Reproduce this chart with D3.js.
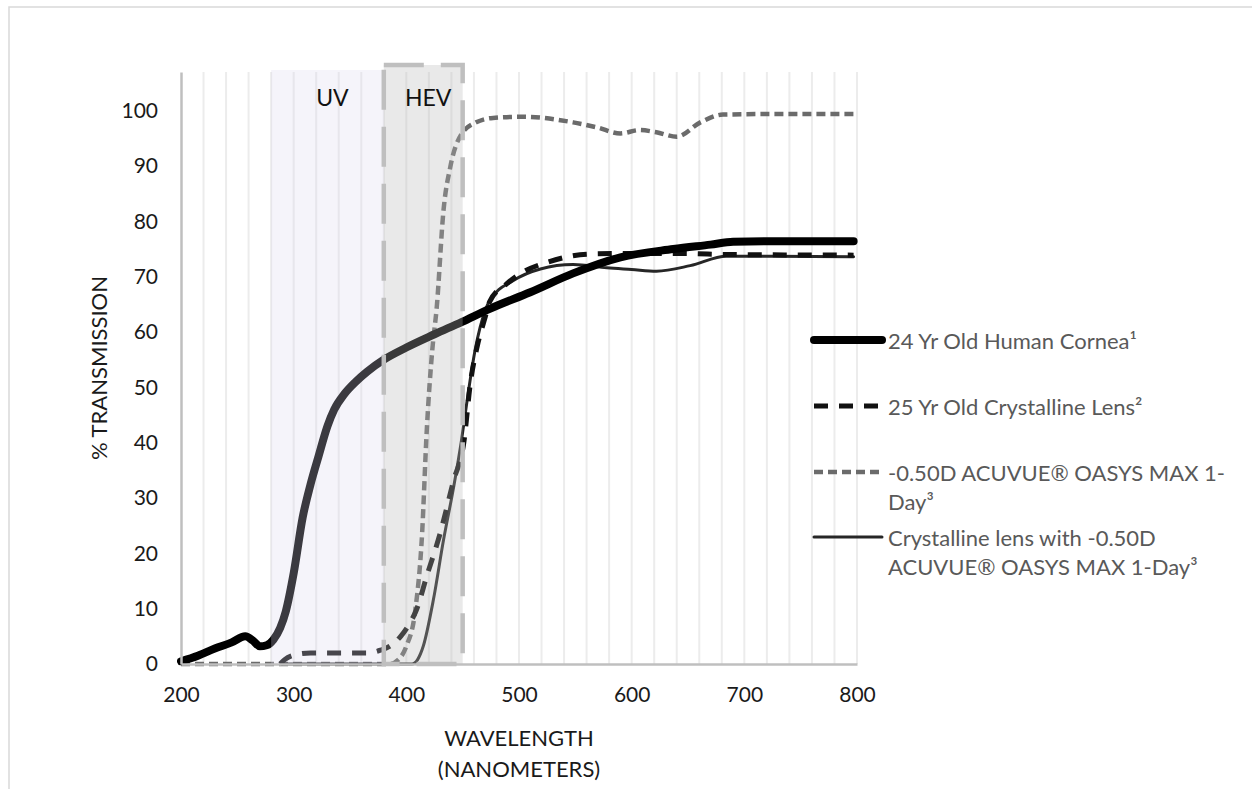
<!DOCTYPE html>
<html>
<head>
<meta charset="utf-8">
<script src="https://cdn.jsdelivr.net/npm/d3@7"></script>
<style>
  body { margin: 0; background: #fff; }
  svg { display: block; font-family: Lato, "Open Sans", sans-serif; }
</style>
</head>
<body>
<svg id="chart"></svg>
<script>
// Canvas
const width = 1252;
const height = 789;

// Axis ticks
const wavelengthTicks = [200, 300, 400, 500, 600, 700, 800];
const percentTicks = [0, 10, 20, 30, 40, 50, 60, 70, 80, 90, 100];

// Shaded bands (nm)
const uvBand = [280, 380];
const hevBand = [380, 450];

// Series: [wavelength nm, % transmission]
const cornea = [
  [200, 0.5], [215, 1.5], [230, 2.8], [245, 3.9], [257, 5.0], [264, 4.2], [270, 3.2],
  [276, 3.4], [282, 4.4], [288, 6.5], [293, 9.5], [300, 16.4], [308, 26.5], [315, 32.5],
  [322, 37.5], [330, 43], [336, 46], [345, 48.8], [355, 51], [365, 52.8], [380, 55],
  [400, 57.2], [425, 59.6], [449, 61.8], [474, 64.2], [510, 67.2], [548, 70.6],
  [590, 73.5], [637, 75], [670, 75.8], [690, 76.3], [720, 76.4], [797, 76.4]
];
const lens = [
  [288, 0], [292, 0.8], [300, 1.6], [315, 2.0], [340, 2.0], [365, 2.0], [377, 2.5],
  [386, 3.3], [395, 5], [402, 7], [409, 9.8], [418, 15.8], [430, 23.6], [442, 33.2],
  [451, 40], [457, 51], [463, 57.5], [470, 62.7], [474, 65.5], [489, 68.7], [505, 71],
  [525, 72.6], [563, 74.1], [600, 74.2], [640, 74.2], [690, 74], [797, 73.9]
];
const acuvue = [
  [200, 0], [385, 0], [393, 0.8], [400, 3.2], [408, 9.8], [414, 23.6], [418, 41.7],
  [423, 56.7], [427, 64.5], [433, 82], [439, 89.8], [449, 95.8], [462, 97.9], [477, 98.7],
  [504, 98.9], [548, 97.9], [569, 97], [590, 95.9], [607, 96.5], [622, 96.1], [640, 95.3],
  [661, 97.9], [681, 99.3], [726, 99.4], [797, 99.4]
];
const lensWithAcuvue = [
  [290, 0], [405, 0], [410, 0.8], [415, 3.2], [424, 11.6], [433, 22.4], [442, 32],
  [449, 40.5], [454, 47.7], [461, 56.7], [470, 63.9], [474, 65.7], [495, 69.3],
  [519, 71.4], [548, 72.2], [578, 71.6], [600, 71.3], [622, 71], [652, 72], [684, 73.7],
  [725, 73.7], [797, 73.6]
];

const legendLabels = {
  cornea: ["24 Yr Old Human Cornea\u00b9"],
  lens: ["25 Yr Old Crystalline Lens\u00b2"],
  acuvue: ["-0.50D ACUVUE\u00ae OASYS MAX 1-", "Day\u00b3"],
  lensWithAcuvue: ["Crystalline lens with -0.50D", "ACUVUE\u00ae OASYS MAX 1-Day\u00b3"]
};
const legendOrder = ["cornea", "lens", "acuvue", "lensWithAcuvue"];

const svg = d3.select("#chart")
    .attr("width", width)
    .attr("height", height);

svg.append("rect").attr("width", width).attr("height", height).attr("fill", "#fff");

// chart area border (only top and left visible)
svg.append("path")
    .attr("d", `M9,${height} V7 H${width}`)
    .attr("fill", "none")
    .attr("stroke", "#d9d9d9")
    .attr("stroke-width", 1.5);

// Scales
const x = d3.scaleLinear().domain([200, 800]).range([181, 857]);
const y = d3.scaleLinear().domain([0, 107]).range([664, 72]);

// vertical gridlines every 20 nm
svg.append("g")
    .selectAll("line")
    .data(d3.range(220, 801, 20))
    .join("line")
    .attr("x1", d => x(d)).attr("x2", d => x(d))
    .attr("y1", y(0)).attr("y2", y.range()[1])
    .attr("stroke", "#ececec")
    .attr("stroke-width", 2);

// Series
const line = d3.line()
    .x(d => x(d[0]))
    .y(d => y(d[1]))
    .curve(d3.curveMonotoneX);

const series = [
  { key: "acuvue", data: acuvue, stroke: "#6b6b6b", width: 4.5, dash: "9,5", cap: "butt" },
  { key: "lensWithAcuvue", data: lensWithAcuvue, stroke: "#262626", width: 3, dash: null, cap: "round" },
  { key: "lens", data: lens, stroke: "#111", width: 5, dash: "14,11", cap: "butt" },
  { key: "cornea", data: cornea, stroke: "#000", width: 8, dash: null, cap: "round" }
];

svg.append("g")
    .selectAll("path")
    .data(series)
    .join("path")
    .attr("d", d => line(d.data))
    .attr("fill", "none")
    .attr("stroke", d => d.stroke)
    .attr("stroke-width", d => d.width)
    .attr("stroke-dasharray", d => d.dash)
    .attr("stroke-linecap", d => d.cap)
    .attr("stroke-linejoin", "round");

// UV and HEV bands drawn over the lines (semi transparent)
svg.append("rect")
    .attr("x", x(uvBand[0]))
    .attr("width", x(uvBand[1]) - x(uvBand[0]))
    .attr("y", y.range()[1] - 2)
    .attr("height", y(0) - y.range()[1] + 2)
    .attr("fill", "#d9d5ec")
    .attr("fill-opacity", 0.27);

svg.append("rect")
    .attr("x", x(hevBand[0]))
    .attr("width", x(hevBand[1]) - x(hevBand[0]))
    .attr("y", y.range()[1] - 7)
    .attr("height", y(0) - y.range()[1] + 7)
    .attr("fill", "#b9b9b9")
    .attr("fill-opacity", 0.31)
    .attr("stroke", "#bfbfbf")
    .attr("stroke-width", 4.5)
    .attr("stroke-dasharray", "40,17");

svg.append("text")
    .attr("x", x(330) + 5).attr("y", 106)
    .attr("text-anchor", "middle")
    .attr("font-size", 23)
    .attr("fill", "#111")
    .text("UV");

svg.append("text")
    .attr("x", x(415) + 5).attr("y", 106)
    .attr("text-anchor", "middle")
    .attr("font-size", 23)
    .attr("fill", "#111")
    .text("HEV");

// Axes
const xAxis = d3.axisBottom(x).tickValues(wavelengthTicks).tickSize(0).tickSizeOuter(0).tickPadding(23);
const yAxis = d3.axisLeft(y).tickValues(percentTicks).tickSize(0).tickSizeOuter(0).tickPadding(23);

const gx = svg.append("g")
    .attr("transform", `translate(0,${y(0)})`)
    .call(xAxis);
const gy = svg.append("g")
    .attr("transform", `translate(${x(200)},0)`)
    .call(yAxis);

[gx, gy].forEach(g => {
  g.select(".domain").attr("stroke", "#bfbfbf").attr("stroke-width", 2.5);
  g.selectAll("text")
      .attr("font-family", "Lato, 'Open Sans', sans-serif")
      .attr("font-size", 21)
      .attr("fill", "#1a1a1a");
});

// Axis titles
svg.append("text")
    .attr("transform", `translate(98,${(y(0) + y.range()[1]) / 2}) rotate(-90)`)
    .attr("text-anchor", "middle")
    .attr("dominant-baseline", "central")
    .attr("font-size", 22)
    .attr("fill", "#1a1a1a")
    .text("% TRANSMISSION");

const xTitle = svg.append("text")
    .attr("text-anchor", "middle")
    .attr("font-size", 22)
    .attr("fill", "#1a1a1a");
xTitle.append("tspan").attr("x", (x(200) + x(800)) / 2).attr("y", 746).text("WAVELENGTH");
xTitle.append("tspan").attr("x", (x(200) + x(800)) / 2).attr("y", 777).text("(NANOMETERS)");

// Legend
const legendRows = [340, 406, 472, 537];
const legendSeries = legendOrder.map(k => series.find(s => s.key === k));
const legendItems = svg.append("g")
    .selectAll("g")
    .data(legendSeries)
    .join("g")
    .attr("transform", (d, i) => `translate(0,${legendRows[i]})`);

legendItems.append("line")
    .attr("x1", 814).attr("x2", 882)
    .attr("stroke", d => d.stroke)
    .attr("stroke-width", d => d.width)
    .attr("stroke-dasharray", d => d.dash)
    .attr("stroke-linecap", d => d.cap);

legendItems.append("text")
    .attr("font-size", 22)
    .attr("fill", "#595959")
    .attr("dominant-baseline", "central")
    .selectAll("tspan")
    .data(d => legendLabels[d.key])
    .join("tspan")
    .attr("x", 888)
    .attr("y", (d, j) => j * 28.5)
    .text(d => d);
</script>
</body>
</html>
